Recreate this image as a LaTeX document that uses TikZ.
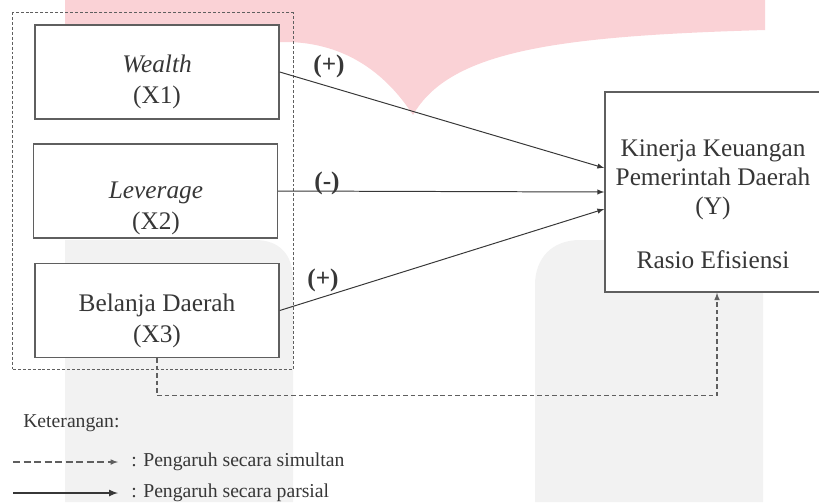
\documentclass[tikz,border=0pt]{standalone}
\usepackage{fontspec}
\setmainfont{Liberation Serif}
\usetikzlibrary{arrows}
\definecolor{wmred}{RGB}{250,210,214}
\definecolor{wmgray}{RGB}{242,242,242}
\definecolor{ink}{RGB}{55,55,55}
\definecolor{rim}{RGB}{95,95,95}
\begin{document}
\begin{tikzpicture}[x=0.025cm, y=-0.025cm]
\tikzset{edge/.style = {->, >=latex, draw=ink, line width=0.7pt}}
\tikzset{simul/.style = {->, >=latex, draw=rim, line width=0.8pt, dash pattern=on 3.2pt off 2.1pt}}
\tikzset{varbox/.style = {shape=rectangle, draw=rim, fill=white, line width=1pt, minimum width=6.1cm, minimum height=2.35cm}}
\tikzset{vartext/.style = {align=center, text=ink, font=\fontsize{18}{22}\selectfont}}
\tikzset{sign/.style = {text=ink, font=\fontsize{18}{20}\selectfont\bfseries}}
\tikzset{note/.style = {anchor=west, inner sep=0pt, text=ink, font=\fontsize{14}{16}\selectfont}}
\useasboundingbox (0,0) rectangle (819,502);
\clip (0,0) rectangle (819,502);
% watermark
\fill[wmred] (65,0) -- (765,0) -- (765,30) .. controls (560,36) and (450,50) .. (413,115) .. controls (385,72) and (345,44) .. (290,42) -- (65,42) -- cycle;
\fill[wmgray] (65,502) -- (65,240) -- (255,240) .. controls (280,240) and (293,255) .. (293,280) -- (293,502) -- cycle;
\fill[wmgray] (535,502) -- (535,285) .. controls (535,258) and (552,240) .. (580,240) -- (763,240) -- (763,502) -- cycle;
% group and variables
\node[draw=rim, line width=0.7pt, dash pattern=on 2.1pt off 1.4pt, minimum width=7cm, minimum height=8.9cm] (grp) at (153,191) {};
\node[varbox] (x1) at (157,72) {};
\node[varbox] (x2) at (155.5,191) {};
\node[varbox] (x3) at (157,310.5) {};
\node[vartext] (x1t) at (157,82) {\textit{Wealth}\\(X1)};
\node[vartext] (x2t) at (156,208) {\textit{Leverage}\\(X2)};
\node[vartext] (x3t) at (157,321) {Belanja Daerah\\(X3)};
\node[varbox, minimum width=5.4cm, minimum height=5cm] (y) at (713,192) {};
\node[vartext, font=\fontsize{18}{20.6}\selectfont] (yt) at (713,204) {Kinerja Keuangan\\Pemerintah Daerah\\(Y)\\[17.7pt]Rasio Efisiensi};
% partial effects
\draw[edge] (x1.east) -- ([yshift=0.6cm]y.west);
\draw[edge] (x2.east) -- (y.west);
\draw[edge] (x3.east) -- ([yshift=-0.425cm]y.west);
\node[sign] (s1) at (329,66) {(+)};
\node[sign] (s2) at (327,183) {(-)};
\node[sign] (s3) at (323,280) {(+)};
% simultaneous effect
\draw[simul] (x3.south) -- ++(0,37) -| ([xshift=0.1cm]y.south);
% legend
\node[note] (ket) at (23,423) {Keterangan:};
\coordinate (ls1) at (13,462);
\coordinate (ls2) at (118,462);
\coordinate (lp1) at (13,493);
\coordinate (lp2) at (118,493);
\draw[simul, dash pattern=on 5pt off 2.5pt] (ls1) -- (ls2);
\draw[edge, line width=1.2pt] (lp1) -- (lp2);
\node[note] (lsim) at (131,462) {: Pengaruh secara simultan};
\node[note] (lpar) at (131,493) {: Pengaruh secara parsial};
\end{tikzpicture}
\end{document}
